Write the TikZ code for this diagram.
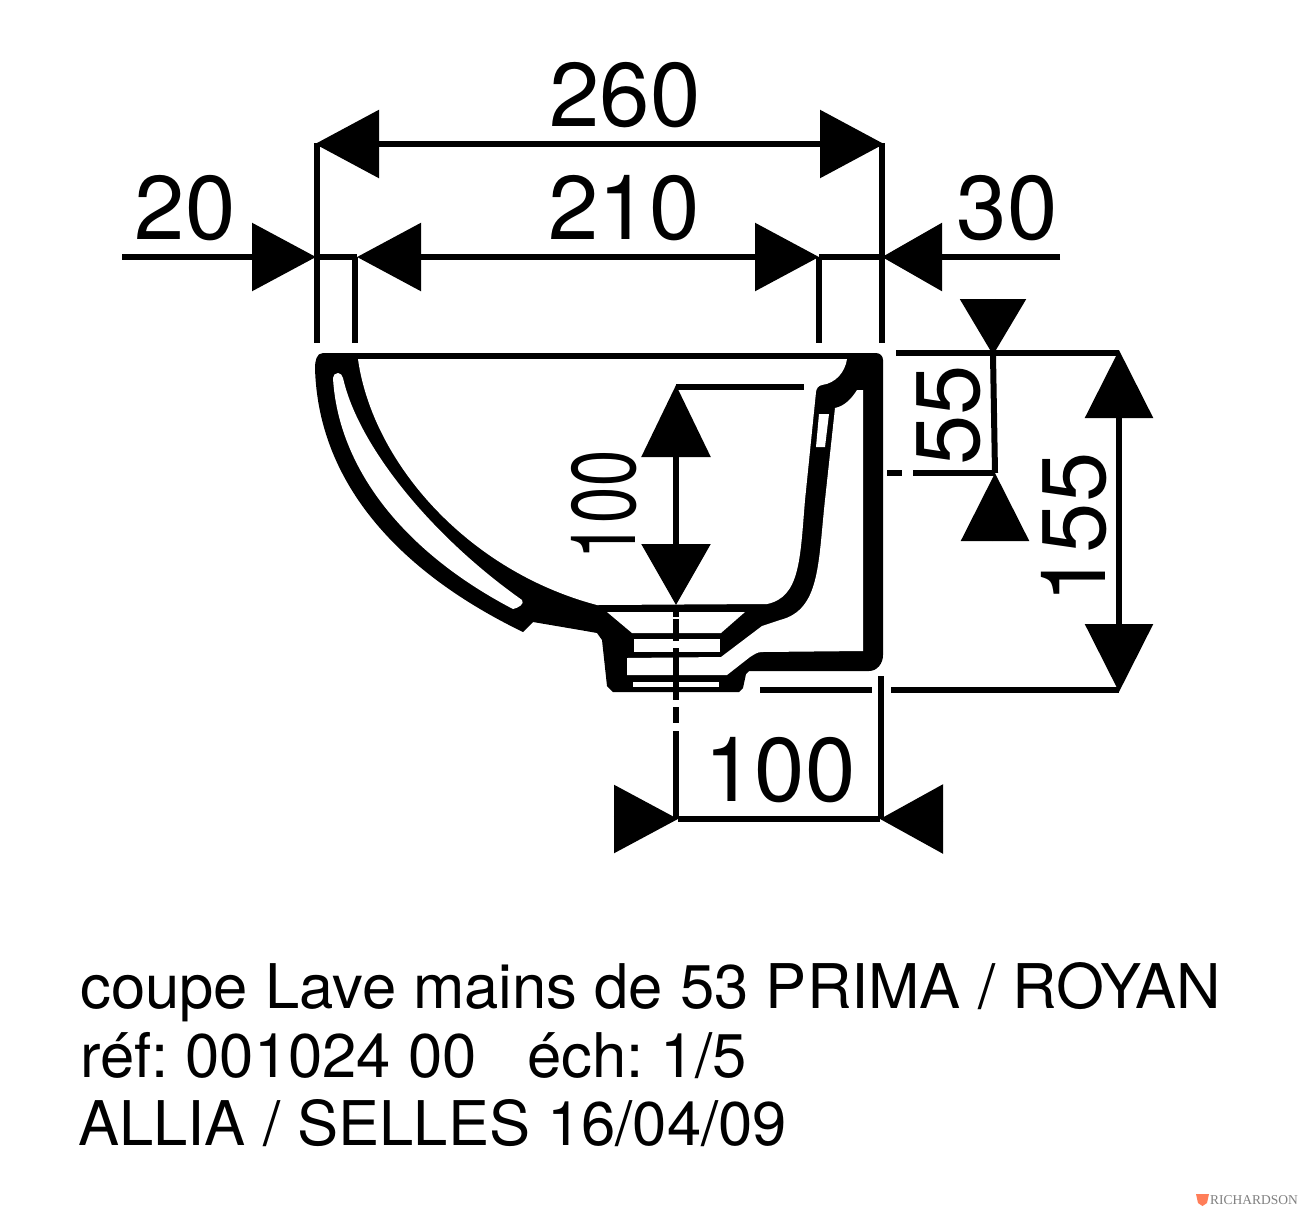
\documentclass[tikz,border=0pt]{standalone}
\usepackage{fontspec}
\usepackage{graphicx}
\setmainfont{TeX Gyre Heros}
\newfontfamily\logofont{Liberation Serif}
\usetikzlibrary{arrows.meta}
\frenchspacing
\tikzset{
  dim/.style={line width=6pt,black},
  ext/.style={line width=6pt,black},
  tipA/.tip={Triangle[length=64pt,width=67pt]},
  tipS/.tip={Triangle[length=56pt,width=65pt]},
  tipL/.tip={Triangle[length=68pt,width=67pt]},
  tipT/.tip={Triangle[length=72pt,width=68pt]},
  bignum/.style={font=\fontsize{90.5}{90.5}\selectfont,inner sep=0pt,black},
  caption/.style={font=\fontsize{61.6}{61.6}\selectfont,inner sep=0pt,anchor=base west,black},
  hole/.style={fill=white,draw=none},
  solid body/.style={fill=black,draw=none}
}
\begin{document}
\begin{tikzpicture}[x=1pt,y=-1pt]
\useasboundingbox[fill=white] (0,0) rectangle (1300,1208);
% ---- section of the basin
\fill[solid body] (323,353) -- (876,353) to[out=0,in=90] (883,360) -- (883,655) to[out=-90,in=0] (869,671)
  -- (749,671) -- (746,674) -- (743,688) -- (739,692) -- (613,692) -- (607,686) -- (602,640) -- (597,633) -- (580,630)
  -- (533,622) -- (523,632)
  .. controls (395,570) and (318,480) .. (315,368)
  to[out=90,in=180] (323,353) -- cycle;
% bowl interior
\fill[hole] (358,359) -- (847,359)
  .. controls (845,372) and (836,383) .. (822,385)
  to[out=190,in=85] (816,392)
  -- (805,500)
  .. controls (800,560) and (800,597) .. (767,604)
  -- (597,605)
  .. controls (465,570) and (372,460) .. (358,359)
  -- cycle;
% slot in the left wall
\fill[hole] (333,378) to[out=90,in=180] (338,373) to[out=0,in=110] (343,378)
  .. controls (358,445) and (430,535) .. (522,600)
  to[out=-50,in=10] (513,609)
  .. controls (400,550) and (338,465) .. (333,378)
  -- cycle;
% cavity behind the bowl, joined to the lower drain hole
\fill[hole] (862,390) -- (857,390)
  .. controls (852,398) and (845,406) .. (835,408)
  -- (825,500)
  .. controls (818,565) and (820,610) .. (780,620)
  -- (762,626)
  -- (721,657) -- (627,658) -- (627,675) -- (727,675) -- (750,657) to[out=30,in=180] (762,652) -- (863,651) -- (863,390) -- cycle;
% drain holes
\fill[hole] (607,612) -- (745,612) -- (721,633) -- (632,633) -- cycle;
\fill[hole] (634,639) rectangle (720,652);
\fill[hole] (633,682) rectangle (719,687);
% slot in the right wall
\fill[hole] (819,414) -- (829,414) -- (825,447) -- (816,447) -- cycle;
% ---- named points of the dimension lines
\coordinate (a260l) at (315,144); \coordinate (a260r) at (884,144);
\coordinate (v260l) at (317,143); \coordinate (v260r) at (882,143);
\coordinate (e260l) at (317,343); \coordinate (e260r) at (882,343);
\coordinate (a210l) at (357,257); \coordinate (a210r) at (819,257);
\coordinate (v210l) at (355,257); \coordinate (v210r) at (819,257);
\coordinate (e210l) at (355,343); \coordinate (e210r) at (819,343);
\coordinate (t20) at (122,257); \coordinate (a20) at (316,257);
\coordinate (t30) at (1060,257); \coordinate (a30) at (882,257);
\coordinate (t55t) at (993,298.8); \coordinate (a55t) at (993,355);
\coordinate (t55b) at (995,541.2); \coordinate (a55b) at (995,473);
\coordinate (e55a) at (913,473); \coordinate (e55b) at (887,473); \coordinate (e55c) at (902,473);
\coordinate (a155t) at (1119,350); \coordinate (a155b) at (1119,692);
\coordinate (e155t) at (896,353); \coordinate (e155te) at (1119,353);
\coordinate (e155a) at (891,690); \coordinate (e155b) at (872,690); \coordinate (e155c) at (760,690);
\coordinate (e155be) at (1119,690);
\coordinate (t100l) at (613.8,819); \coordinate (a100l) at (678,819);
\coordinate (t100r) at (943.2,819); \coordinate (a100r) at (880,819);
\coordinate (v100r) at (881,676); \coordinate (w100r) at (881,819);
\coordinate (a100t) at (676,385); \coordinate (a100b) at (676,605);
\coordinate (e100s) at (676,387); \coordinate (e100t) at (804,387);
% ---- dimension lines
\draw[dim,{tipA}-{tipA}] (a260l) -- (a260r);
\draw[ext] (v260l) -- (e260l);
\draw[ext] (v260r) -- (e260r);
\draw[dim,{tipA}-{tipA}] (a210l) -- (a210r);
\draw[ext] (v210l) -- (e210l);
\draw[ext] (v210r) -- (e210r);
\draw[dim,-{tipA}] (t20) -- (a20);
\draw[dim,-{Triangle[length=60pt,width=67pt]}] (t30) -- (a30);
\draw[dim] (a20) -- (a210l);
\draw[dim] (a210r) -- (a30);
\draw[dim,-{tipS}] (t55t) -- (a55t);
\draw[dim,-{tipL}] (t55b) -- (a55b);
\draw[dim] (a55t) -- (a55b);
\draw[ext] (e55a) -- (a55b);
\draw[ext] (e55b) -- (e55c);
\draw[dim,{tipL}-{tipL}] (a155t) -- (a155b);
\draw[ext] (e155t) -- (e155te);
\draw[ext] (e155a) -- (e155be);
\draw[ext] (e155c) -- (e155b);
\draw[dim,-{tipA}] (t100l) -- (a100l);
\draw[dim,-{Triangle[length=63pt,width=68pt]}] (t100r) -- (a100r);
\draw[dim] (a100l) -- (a100r);
\draw[ext] (v100r) -- (w100r);
\draw[dim,{tipT}-{Triangle[length=61pt,width=68pt]}] (a100t) -- (a100b);
\draw[ext] (e100s) -- (e100t);
% ---- centre line (chain line through the drain)
\coordinate (c0) at (676,605); \coordinate (c1) at (676,617);
\coordinate (c2) at (676,619); \coordinate (c3) at (676,641);
\coordinate (c4) at (676,648); \coordinate (c5) at (676,700);
\coordinate (c6) at (676,707); \coordinate (c7) at (676,723);
\coordinate (c8) at (676,731); \coordinate (c9) at (676,819);
\draw[ext] (c0) -- (c1);
\draw[ext] (c2) -- (c3);
\draw[ext] (c4) -- (c5);
\draw[ext] (c6) -- (c7);
\draw[ext] (c8) -- (c9);
% ---- numbers
\node[bignum] (n260) at (625,95.5) {260};
\node[bignum] (n210) at (624,208) {210};
\node[bignum] (n20) at (185,208) {20};
\node[bignum] (n30) at (1007,208) {30};
\node[bignum,rotate=90] (n55) at (949,415) {55};
\node[bignum,rotate=90] (n100v) at (604,505) {\scalebox{.72}[1]{100}};
\node[bignum,rotate=90] (n155) at (1074,528) {155};
\node[bignum] (n100h) at (780,770) {100};
% ---- caption
\node[caption] (l1) at (80,1008) {coupe Lave mains de 53 PRIMA / ROYAN};
\node[caption] (l2) at (80,1077) {réf: 001024 00\hspace{0.82em}éch: 1/5};
\node[caption] (l3) at (78,1145) {ALLIA / SELLES 16/04/09};
% ---- mark
\fill[red!55!orange!65!white] (1196,1194) -- (1209,1194) -- (1207,1203) -- (1202.5,1206) -- (1198,1203) -- cycle;
\node[inner sep=0pt,anchor=base west,text=black!50,font=\logofont\fontsize{13.5}{13.5}\selectfont] (logo) at (1210,1204) {RICHARDSON};
\end{tikzpicture}
\end{document}
